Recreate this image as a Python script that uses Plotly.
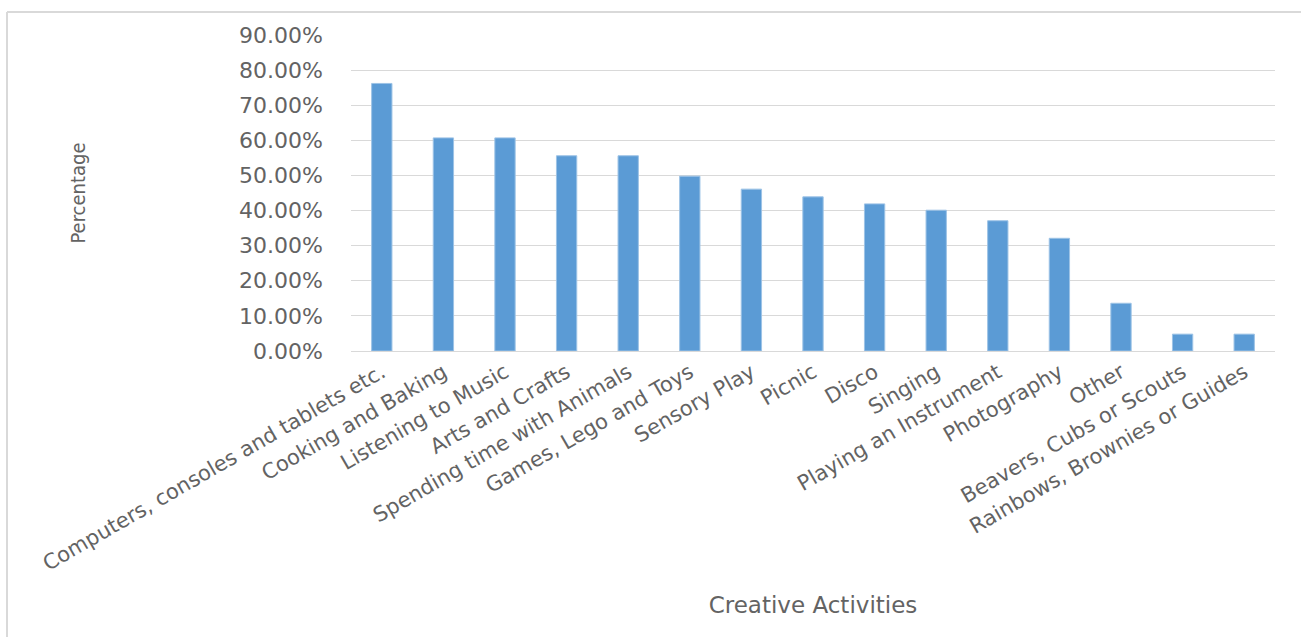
import plotly.graph_objects as go

categories = [
    "Computers, consoles and tablets etc.",
    "Cooking and Baking",
    "Listening to Music",
    "Arts and Crafts",
    "Spending time with Animals",
    "Games, Lego and Toys",
    "Sensory Play",
    "Picnic",
    "Disco",
    "Singing",
    "Playing an Instrument",
    "Photography",
    "Other",
    "Beavers, Cubs or Scouts",
    "Rainbows, Brownies or Guides",
]
values = [0.762, 0.607, 0.607, 0.556, 0.556, 0.498, 0.461, 0.439, 0.419,
          0.401, 0.371, 0.321, 0.136, 0.048, 0.048]
y_tickvals = [0, 0.1, 0.2, 0.3, 0.4, 0.5, 0.6, 0.7, 0.8, 0.9]
y_ticktext = ["0.00%", "10.00%", "20.00%", "30.00%", "40.00%", "50.00%",
              "60.00%", "70.00%", "80.00%", "90.00%"]

W, H = 1301, 637
L, R, T, B = 351, 26, 35, 286
pw, ph = W - L - R, H - T - B

def px_x(x):
    return (x - L) / pw

def px_y(y):
    return (H - B - y) / ph

BAR = "#5B9BD5"
GRID = "#D9D9D9"
TXT = "#636363"

fig = go.Figure()
fig.add_trace(go.Bar(
    x=categories, y=values,
    marker=dict(color=BAR, line=dict(color="#9DC3E6", width=1)),
    hoverinfo="x+y",
))

fig.update_layout(
    width=W, height=H,
    margin=dict(l=L, r=R, t=T, b=B, autoexpand=False),
    paper_bgcolor="white", plot_bgcolor="white",
    bargap=0.67,
    showlegend=False,
    font=dict(family="DejaVu Sans", color=TXT),
    xaxis=dict(
        type="category",
        showgrid=False,
        showline=True, linecolor=GRID, linewidth=1,
        ticks="", tickangle=-30,
        tickfont=dict(family="DejaVu Sans", size=21, color=TXT),
        automargin=False,
        title=dict(text="Creative Activities",
                   font=dict(family="DejaVu Sans", size=23, color=TXT),
                   standoff=22),
    ),
    yaxis=dict(
        range=[0, 0.9],
        tickvals=y_tickvals, ticktext=y_ticktext,
        showgrid=True, gridcolor=GRID, gridwidth=1,
        zeroline=False, showline=False, ticks="",
        ticklabelstandoff=27,
        tickfont=dict(family="DejaVu Sans", size=22, color=TXT),
        automargin=False,
        title=dict(text="Percentage",
                   font=dict(family="DejaVu Sans Condensed, Liberation Sans Narrow", size=20, color=TXT),
                   standoff=148),
    ),
    shapes=[
        dict(type="line", xref="paper", yref="paper",
             x0=px_x(7), x1=px_x(1301), y0=px_y(12), y1=px_y(12),
             line=dict(color=GRID, width=2)),
        dict(type="line", xref="paper", yref="paper",
             x0=px_x(7), x1=px_x(7), y0=px_y(12), y1=px_y(637),
             line=dict(color=GRID, width=2)),
    ],
)

fig.write_html("out.html", config={"displayModeBar": False},
               post_script="document.body.style.margin='0';")
